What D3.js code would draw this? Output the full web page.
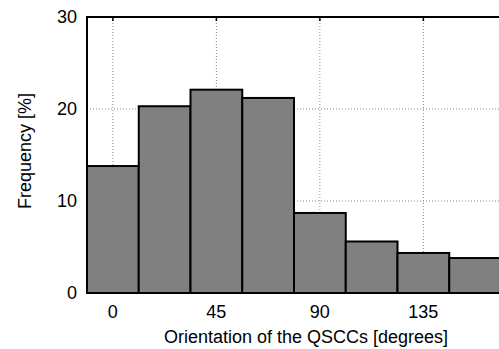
<!DOCTYPE html>
<meta charset="utf-8">
<style>
  body { margin: 0; background: #fff; }
  svg { display: block; font-family: "Liberation Sans", Arial, sans-serif; }
  .grid line { stroke: #888; stroke-width: 1px; stroke-dasharray: 1,2; }
  .bar { fill: #808080; stroke: #000; stroke-width: 2px; }
  .frame { fill: none; stroke: #000; stroke-width: 2px; }
  .tick-label { font-size: 18px; fill: #000; }
  .axis-title { font-size: 18px; fill: #000; }
</style>
<body>
<svg width="499" height="349"></svg>
<script src="https://d3js.org/d3.v7.min.js"></script>
<script>
// bin centres (degrees) and frequency (%)
var binCenters = [0, 22.5, 45, 67.5, 90, 112.5, 135, 157.5];
var frequency = [13.8, 20.3, 22.1, 21.2, 8.7, 5.6, 4.35, 3.8];
var xTicks = [0, 45, 90, 135];
var yTicks = [0, 10, 20, 30];
var binWidth = 22.5;

var svg = d3.select('svg');

// plot area, right edge runs slightly past the window like the original
var plotL = 87, plotT = 17, plotR = 501, plotB = 293;

var x = d3.scaleLinear().domain([-11.25, 168.75]).range([plotL, plotR]);
var y = d3.scaleLinear().domain([0, 30]).range([plotB, plotT]);

// grid lines ------------------------------------------------------------
var grid = svg.append('g').attr('class', 'grid');
grid.selectAll('.gx')
  .data(xTicks)
  .enter().append('line')
  .attr('x1', d => x(d)).attr('x2', d => x(d))
  .attr('y1', plotT).attr('y2', plotB);
grid.selectAll('.gy')
  .data(yTicks.filter(d => d > 0 && d < 30))
  .enter().append('line')
  .attr('x1', plotL).attr('x2', plotR)
  .attr('y1', d => y(d)).attr('y2', d => y(d));

// bars ------------------------------------------------------------------
svg.selectAll('.bar')
  .data(binCenters)
  .enter().append('rect')
  .attr('class', 'bar')
  .attr('x', d => x(d - binWidth / 2))
  .attr('width', d => x(d + binWidth / 2) - x(d - binWidth / 2))
  .attr('y', (d, i) => y(frequency[i]))
  .attr('height', (d, i) => plotB - y(frequency[i]));

// frame and inward ticks ------------------------------------------------
svg.append('rect')
  .attr('class', 'frame')
  .attr('x', plotL).attr('y', plotT)
  .attr('width', plotR - plotL).attr('height', plotB - plotT);

svg.append('g').selectAll('line')
  .data(xTicks)
  .enter().append('line')
  .attr('x1', d => x(d)).attr('x2', d => x(d))
  .attr('y1', plotT).attr('y2', plotT + 4)
  .attr('stroke', '#000').attr('stroke-width', 1.5);

// tick labels -----------------------------------------------------------
svg.append('g').selectAll('text')
  .data(xTicks)
  .enter().append('text')
  .attr('class', 'tick-label')
  .attr('x', d => x(d))
  .attr('y', 318)
  .attr('text-anchor', 'middle')
  .text(d => d);

svg.append('g').selectAll('text')
  .data(yTicks)
  .enter().append('text')
  .attr('class', 'tick-label')
  .attr('x', 77)
  .attr('y', d => y(d) + 6)
  .attr('text-anchor', 'end')
  .text(d => d);

// axis titles -----------------------------------------------------------
svg.append('text')
  .attr('class', 'axis-title')
  .attr('x', 306)
  .attr('y', 343)
  .attr('text-anchor', 'middle')
  .text('Orientation of the QSCCs [degrees]');

svg.append('text')
  .attr('class', 'axis-title')
  .attr('transform', 'translate(31,151) rotate(-90)')
  .attr('text-anchor', 'middle')
  .text('Frequency [%]');
</script>
</body>
